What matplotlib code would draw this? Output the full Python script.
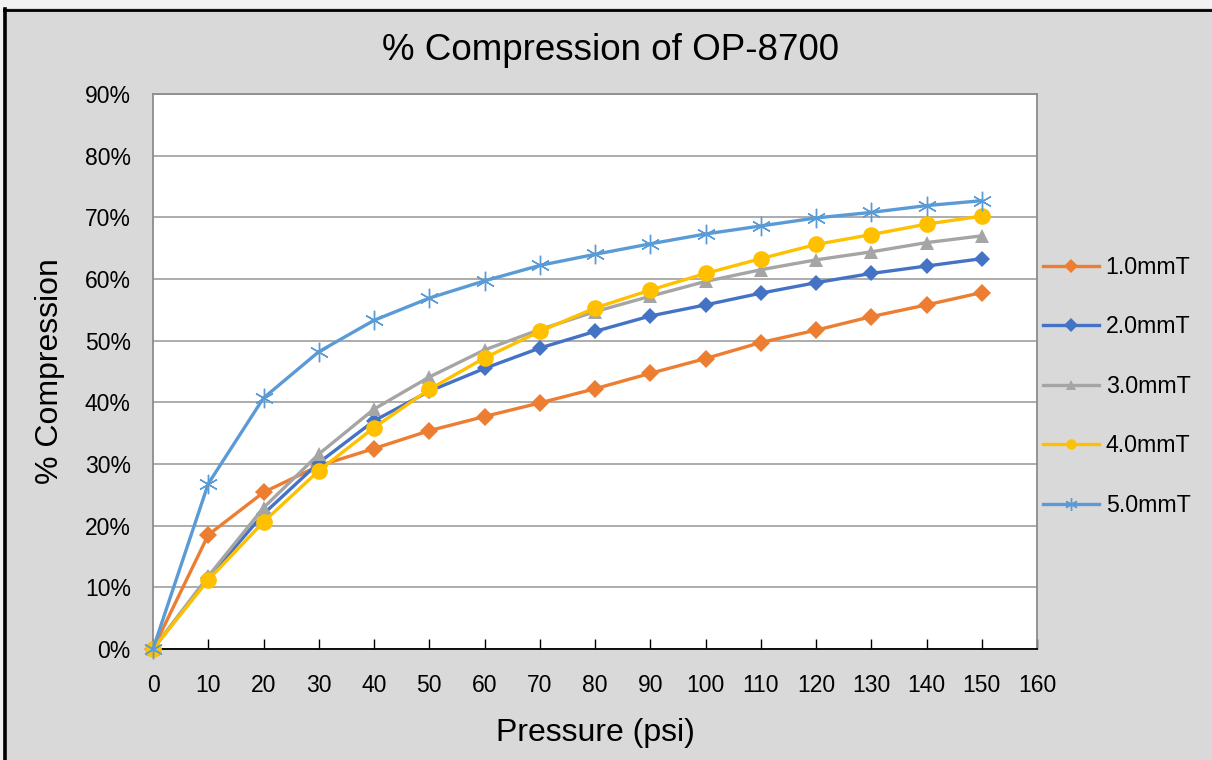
import matplotlib.pyplot as plt
from matplotlib.lines import Line2D
from matplotlib.patches import Rectangle
from matplotlib.ticker import MultipleLocator, FuncFormatter

plt.rcParams['font.family'] = ['Liberation Sans', 'DejaVu Sans']

# Pressure (psi)
pressure = [0, 10, 20, 30, 40, 50, 60, 70, 80, 90, 100, 110, 120, 130, 140, 150]

# % compression per thickness
comp_1mm = [0, 18.5, 25.4, 29.7, 32.5, 35.4, 37.7, 39.9, 42.2, 44.7, 47.1, 49.7, 51.7, 53.9, 55.8, 57.8]
comp_2mm = [0, 11.5, 21.9, 30.2, 37.0, 41.8, 45.5, 48.8, 51.5, 54.0, 55.8, 57.7, 59.4, 60.9, 62.1, 63.3]
comp_3mm = [0, 11.8, 22.9, 31.6, 38.9, 44.1, 48.5, 51.8, 54.7, 57.2, 59.6, 61.5, 63.1, 64.4, 65.9, 67.0]
comp_4mm = [0, 11.2, 20.6, 28.9, 35.9, 42.1, 47.2, 51.5, 55.3, 58.2, 60.9, 63.3, 65.6, 67.2, 68.9, 70.2]
comp_5mm = [0, 26.8, 40.7, 48.2, 53.3, 56.9, 59.7, 62.2, 64.0, 65.7, 67.3, 68.6, 69.9, 70.8, 71.9, 72.7]

labels = ['1.0mmT', '2.0mmT', '3.0mmT', '4.0mmT', '5.0mmT']
colors = ['#ED7D31', '#4472C4', '#A5A5A5', '#FFC000', '#5B9BD5']
markers = ['D', 'D', '^', 'o', (6, 2, 0)]
msizes = [9, 8, 10, 12, 14]

W, H = 1212, 760
fig = plt.figure(figsize=(W / 100, H / 100), dpi=100, facecolor='#d9d9d9')

# screenshot frame: light strip on top/left and black border
fig.patches.append(Rectangle((0, 1 - 8 / H), 1, 8 / H, transform=fig.transFigure,
                             facecolor='#f2f2f2', edgecolor='none', zorder=0))
fig.patches.append(Rectangle((0, 0), 3 / W, 1, transform=fig.transFigure,
                             facecolor='#f2f2f2', edgecolor='none', zorder=0))
fig.lines.append(Line2D([5 / W, 5 / W], [0, 1 - 9 / H], transform=fig.transFigure,
                        color='black', lw=2.6))
fig.lines.append(Line2D([4 / W, 1], [1 - 9.5 / H, 1 - 9.5 / H], transform=fig.transFigure,
                        color='black', lw=2.0))

ax = fig.add_axes([153 / W, 1 - 649 / H, (1037 - 153) / W, (649 - 94) / H])
ax.set_facecolor('white')

series = [comp_1mm, comp_2mm, comp_3mm, comp_4mm, comp_5mm]
for vals, lab, c, m, ms in zip(series, labels, colors, markers, msizes):
    mew = 1.0 if m == (6, 2, 0) else 0
    ax.plot(pressure, [v / 100 for v in vals], color=c, lw=2.4, marker=m, markersize=ms,
            markeredgewidth=mew, markeredgecolor=c, label=lab, clip_on=False, zorder=3)

ax.set_xlim(0, 160)
ax.set_ylim(0, 0.9)
ax.xaxis.set_major_locator(MultipleLocator(10))
ax.yaxis.set_major_locator(MultipleLocator(0.1))
ax.yaxis.set_major_formatter(FuncFormatter(lambda v, p: f'{v * 100:.0f}%'))
ax.grid(axis='y', color='#a6a6a6', lw=1.3)
ax.set_axisbelow(True)

ax.tick_params(axis='x', direction='in', length=7, width=1, color='black',
               labelsize=16.5, pad=18)
ax.tick_params(axis='y', length=0, labelsize=16.5, pad=16)
for s in ['top', 'right', 'left']:
    ax.spines[s].set_color('#8c8c8c')
    ax.spines[s].set_linewidth(1.3)
ax.spines['bottom'].set_color('black')
ax.spines['bottom'].set_linewidth(1.3)

ax.set_xlabel('Pressure (psi)', fontsize=23, labelpad=15)
ax.set_ylabel('% Compression', fontsize=23, labelpad=14)
fig.text(611 / W, 1 - 50 / H, '% Compression of OP-8700', fontsize=26.5,
         ha='center', va='center')

handles = [Line2D([], [], color=c, lw=2.4, marker=m, markersize=(9 if m == (6, 2, 0) else 7.5),
                  markeredgewidth=(1 if m == (6, 2, 0) else 0), markeredgecolor=c)
           for c, m in zip(colors, markers)]
fig.legend(handles, labels, loc='upper left', bbox_to_anchor=(1043 / W, 1 - 256 / H),
           frameon=False, fontsize=16.7, handlelength=2.4, handletextpad=0.3,
           labelspacing=1.57, borderpad=0, borderaxespad=0)

fig.savefig('out.png', dpi=100, facecolor=fig.get_facecolor())
